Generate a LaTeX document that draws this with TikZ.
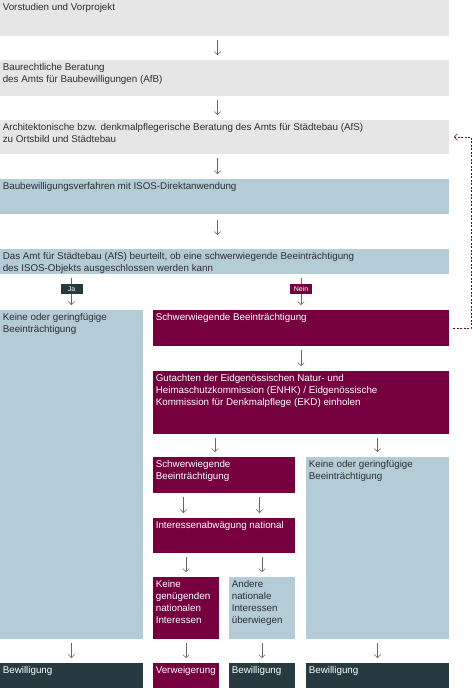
\documentclass[tikz,border=0pt]{standalone}
\usepackage{fontspec}
\setmainfont{Liberation Sans}
\usetikzlibrary{positioning,arrows.meta}
\definecolor{afsgrey}{HTML}{E6E6E6}
\definecolor{afsblue}{HTML}{B4CCD6}
\definecolor{afsred}{HTML}{76003F}
\definecolor{afsdark}{HTML}{263A40}
\definecolor{afstext}{HTML}{2E2E2E}
\definecolor{afsarrow}{HTML}{666666}

\begin{document}
\begin{tikzpicture}[x=1pt,y=-1pt,
box/.style={rectangle,anchor=north west,inner sep=0pt,outer sep=0pt},
greybox/.style={box,fill=afsgrey},
bluebox/.style={box,fill=afsblue},
redbox/.style={box,fill=afsred},
darkbox/.style={box,fill=afsdark},
txt/.style={anchor=north west,inner xsep=2.6pt,inner ysep=3.5pt,align=left,
  font=\fontsize{9.8}{12}\selectfont,text=afstext},
wtxt/.style={txt,text=white},
arr/.style={draw=afsarrow,line width=.6pt,-{Straight Barb[length=3pt,width=6.5pt]},
  shorten <=4pt,shorten >=5pt},
back arr/.style={arr,draw=afsred,dash pattern=on 2pt off 1.5pt},
tag/.style={pos=.43,inner sep=0pt,minimum width=22pt,minimum height=10pt,
  font=\fontsize{7}{8}\selectfont,text=white}]
\useasboundingbox (0,0) rectangle (473,688);

% steps, top to bottom
\node (vor) [greybox,minimum width=449pt,minimum height=36pt] at (0,0) {};
\node (vor-t) [txt] at (vor.north west) {Vorstudien und Vorprojekt};
\node (afb) [greybox,minimum width=449pt,minimum height=36pt] at (0,60) {};
\node (afb-t) [txt] at (afb.north west) {Baurechtliche Beratung\\des Amts für Baubewilligungen (AfB)};
\node (afs) [greybox,minimum width=449pt,minimum height=34pt] at (0,120) {};
\node (afs-t) [txt] at (afs.north west) {Architektonische bzw. denkmalpflegerische Beratung des Amts für Städtebau (AfS)\\zu Ortsbild und Städtebau};
\node (verf) [bluebox,minimum width=449pt,minimum height=35pt] at (0,179) {};
\node (verf-t) [txt] at (verf.north west) {Baubewilligungsverfahren mit ISOS-Direktanwendung};
\node (beurt) [bluebox,minimum width=449pt,minimum height=25pt] at (0,249) {};
\node (beurt-t) [txt] at (beurt.north west) {Das Amt für Städtebau (AfS) beurteilt, ob eine schwerwiegende Beeinträchtigung\\des ISOS-Objekts ausgeschlossen werden kann};

% branches
\node (keine1) [bluebox,minimum width=143pt,minimum height=329pt] at (0,310) {};
\node (keine1-t) [txt] at (keine1.north west) {Keine oder geringfügige\\Beeinträchtigung};
\node (schwer1) [redbox,minimum width=296pt,minimum height=36pt] at (153,310) {};
\node (schwer1-t) [wtxt] at (schwer1.north west) {Schwerwiegende Beeinträchtigung};
\node (gut) [redbox,minimum width=296pt,minimum height=63pt] at (153,371) {};
\node (gut-t) [wtxt] at (gut.north west) {Gutachten der Eidgenössischen Natur- und\\Heimaschutzkommission (ENHK) / Eidgenössische\\Kommission für Denkmalpflege (EKD) einholen};
\node (schwer2) [redbox,minimum width=142pt,minimum height=36pt] at (153,457) {};
\node (schwer2-t) [wtxt] at (schwer2.north west) {Schwerwiegende\\Beeinträchtigung};
\node (keine2) [bluebox,minimum width=143pt,minimum height=182pt] at (306,457) {};
\node (keine2-t) [txt] at (keine2.north west) {Keine oder geringfügige\\Beeinträchtigung};
\node (abw) [redbox,minimum width=142pt,minimum height=35pt] at (153,518) {};
\node (abw-t) [wtxt] at (abw.north west) {Interessenabwägung national};
\node (keine3) [redbox,minimum width=66pt,minimum height=62pt] at (153,577) {};
\node (keine3-t) [wtxt] at (keine3.north west) {Keine\\genügenden\\nationalen\\Interessen};
\node (andere) [bluebox,minimum width=66pt,minimum height=62pt] at (229,577) {};
\node (andere-t) [txt] at (andere.north west) {Andere\\nationale\\Interessen\\überwiegen};

% outcomes
\node (bew1) [darkbox,minimum width=143pt,minimum height=25pt] at (0,663) {};
\node (bew1-t) [wtxt] at (bew1.north west) {Bewilligung};
\node (verw) [redbox,minimum width=66pt,minimum height=25pt] at (153,663) {};
\node (verw-t) [wtxt] at (verw.north west) {Verweigerung};
\node (bew2) [darkbox,minimum width=66pt,minimum height=25pt] at (229,663) {};
\node (bew2-t) [wtxt] at (bew2.north west) {Bewilligung};
\node (bew3) [darkbox,minimum width=143pt,minimum height=25pt] at (306,663) {};
\node (bew3-t) [wtxt] at (bew3.north west) {Bewilligung};

% arrows
\draw[arr] ([xshift=-7pt]vor.south) -- ([xshift=-7pt]afb.north);
\draw[arr] ([xshift=-7pt]afb.south) -- ([xshift=-7pt]afs.north);
\draw[arr] ([xshift=-7pt]afs.south) -- ([xshift=-7pt]verf.north);
\draw[arr,shorten <=6pt,shorten >=14pt] ([xshift=-7pt]verf.south) -- ([xshift=-7pt]beurt.north);
\draw[arr] (beurt.south -| keine1.north) -- node[tag,fill=afsdark]{Ja} (keine1.north);
\draw[arr] (beurt.south -| schwer1.north) -- node[tag,fill=afsred]{Nein} (schwer1.north);
\draw[arr] (schwer1.south) -- (gut.north);
\draw[arr] ([xshift=-9pt]gut.south -| schwer2.north) -- ([xshift=-9pt]schwer2.north);
\draw[arr] (gut.south -| keine2.north) -- (keine2.north);
\draw[arr] ([xshift=-2.5pt]schwer2.south -| keine3.north) -- ([xshift=-2.5pt]abw.north -| keine3.north);
\draw[arr] ([xshift=-2.5pt]schwer2.south -| andere.north) -- ([xshift=-2.5pt]abw.north -| andere.north);
\draw[arr] (abw.south -| keine3.north) -- (keine3.north);
\draw[arr] (abw.south -| andere.north) -- (andere.north);
\draw[arr] (keine1.south) -- (bew1.north);
\draw[arr] (keine3.south) -- (verw.north);
\draw[arr] (andere.south) -- (bew2.north);
\draw[arr] (keine2.south) -- (bew3.north);
\draw[back arr] (schwer1.east) -- ++(22,0) |- (afs.east);
\end{tikzpicture}
\end{document}
